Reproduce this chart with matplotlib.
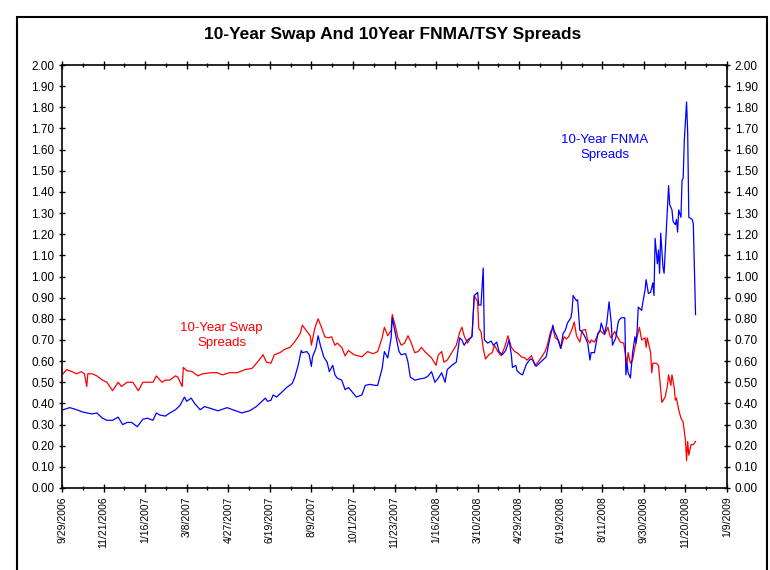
import matplotlib.pyplot as plt
import numpy as np
from matplotlib.patches import Rectangle
from matplotlib.ticker import FormatStrFormatter, MultipleLocator

plt.rcParams["font.family"] = ["Liberation Sans", "DejaVu Sans"]

# x axis labels, one every 37 business days
tick_dates = ["9/29/2006", "11/21/2006", "1/16/2007", "3/8/2007", "4/27/2007",
              "6/19/2007", "8/9/2007", "10/1/2007", "11/23/2007", "1/16/2008",
              "3/10/2008", "4/29/2008", "6/19/2008", "8/11/2008", "9/30/2008",
              "11/20/2008", "1/9/2009"]
step = 37

# 10-year swap spreads (business day index, value)
swap_day = [1, 4, 9, 13, 17, 20, 22, 23, 27, 31, 36, 40, 45, 50, 53, 58, 63, 68, 72, 76,
            81, 84, 89, 92, 96, 101, 103, 107, 108, 111, 116, 121, 125, 132, 138, 143, 149, 156, 163, 169,
            174, 179, 182, 186, 189, 194, 198, 203, 207, 212, 214, 218, 221, 222, 225, 228, 231, 234, 237, 240,
            243, 245, 249, 252, 255, 260, 267, 272, 277, 279, 281, 285, 287, 290, 293, 294, 297, 299, 302, 305,
            308, 311, 314, 317, 320, 323, 326, 329, 333, 335, 338, 340, 343, 347, 351, 354, 356, 358, 361, 365,
            367, 370, 371, 373, 375, 377, 380, 383, 385, 388, 391, 394, 397, 400, 403, 405, 409, 412, 414, 418,
            421, 423, 427, 430, 432, 435, 437, 439, 442, 444, 447, 449, 451, 454, 456, 458, 461, 463, 466, 468,
            470, 471, 474, 477, 479, 480, 483, 486, 488, 489, 492, 495, 497, 500, 502, 503, 504, 506, 508, 510,
            511, 512, 514, 516, 519, 520, 521, 524, 525, 526, 529, 531, 533, 534, 537, 539, 540, 542, 543, 545,
            546, 547, 549, 551, 553, 555, 556, 557, 558, 560, 562, 564]
swap = [0.54, 0.56, 0.55, 0.54, 0.55, 0.54, 0.48, 0.54, 0.54, 0.53, 0.51, 0.50, 0.46, 0.50, 0.48, 0.50, 0.50, 0.46, 0.50, 0.50,
        0.50, 0.53, 0.50, 0.51, 0.51, 0.53, 0.525, 0.48, 0.57, 0.555, 0.55, 0.53, 0.54, 0.545, 0.545, 0.535, 0.545, 0.545, 0.56, 0.565,
        0.595, 0.63, 0.595, 0.59, 0.63, 0.64, 0.655, 0.665, 0.69, 0.73, 0.77, 0.74, 0.72, 0.675, 0.755, 0.80, 0.76, 0.715, 0.71, 0.715,
        0.675, 0.685, 0.665, 0.625, 0.65, 0.63, 0.62, 0.645, 0.635, 0.64, 0.645, 0.71, 0.76, 0.72, 0.745, 0.82, 0.76, 0.71, 0.675, 0.685,
        0.72, 0.685, 0.64, 0.645, 0.665, 0.645, 0.63, 0.615, 0.58, 0.63, 0.645, 0.595, 0.605, 0.64, 0.675, 0.735, 0.76, 0.72, 0.685, 0.72,
        0.91, 0.88, 0.755, 0.74, 0.66, 0.61, 0.63, 0.64, 0.675, 0.645, 0.625, 0.665, 0.72, 0.665, 0.645, 0.64, 0.62, 0.615, 0.605, 0.625,
        0.58, 0.59, 0.62, 0.645, 0.675, 0.74, 0.755, 0.71, 0.70, 0.66, 0.715, 0.705, 0.715, 0.75, 0.785, 0.72, 0.69, 0.745, 0.75, 0.70,
        0.685, 0.70, 0.69, 0.725, 0.745, 0.74, 0.725, 0.76, 0.715, 0.71, 0.74, 0.71, 0.69, 0.685, 0.615, 0.59, 0.64, 0.59, 0.605, 0.665,
        0.685, 0.715, 0.76, 0.70, 0.71, 0.665, 0.71, 0.64, 0.545, 0.59, 0.59, 0.58, 0.465, 0.405, 0.43, 0.485, 0.535, 0.485, 0.535, 0.475,
        0.415, 0.425, 0.37, 0.33, 0.31, 0.225, 0.13, 0.22, 0.155, 0.205, 0.205, 0.22]

# 10-year FNMA/TSY spreads
fnma_day = [1, 7, 13, 18, 22, 27, 31, 36, 40, 45, 50, 54, 58, 62, 67, 72, 76, 81, 84, 87,
            92, 96, 101, 105, 109, 111, 115, 118, 123, 127, 133, 139, 147, 152, 160, 167, 173, 178, 181, 183,
            186, 188, 191, 196, 200, 205, 207, 210, 213, 214, 218, 220, 222, 223, 226, 228, 230, 233, 236, 238,
            241, 243, 245, 249, 252, 255, 259, 262, 267, 270, 274, 279, 281, 285, 287, 290, 293, 294, 297, 300,
            302, 306, 308, 310, 314, 318, 323, 326, 329, 332, 335, 338, 341, 343, 347, 351, 354, 356, 358, 361,
            365, 367, 370, 371, 373, 375, 376, 379, 382, 384, 387, 389, 392, 395, 398, 400, 401, 404, 405, 408,
            410, 413, 414, 417, 419, 422, 425, 428, 431, 434, 437, 438, 441, 444, 446, 448, 450, 453, 454, 455,
            458, 459, 461, 463, 466, 468, 470, 471, 474, 477, 479, 480, 483, 485, 487, 489, 490, 493, 495, 496,
            498, 501, 502, 503, 504, 506, 508, 510, 511, 512, 513, 516, 517, 519, 520, 522, 524, 526, 527, 528,
            530, 531, 532, 533, 535, 536, 538, 540, 541, 543, 544, 546, 547, 548, 549, 551, 552, 553, 554, 556,
            557, 558, 561, 562, 564]
fnma = [0.37, 0.38, 0.37, 0.36, 0.355, 0.35, 0.355, 0.33, 0.32, 0.32, 0.335, 0.30, 0.31, 0.31, 0.29, 0.325, 0.33, 0.32, 0.355, 0.345,
        0.34, 0.355, 0.37, 0.39, 0.43, 0.41, 0.425, 0.40, 0.37, 0.385, 0.375, 0.365, 0.38, 0.37, 0.355, 0.365, 0.385, 0.41, 0.425, 0.41,
        0.415, 0.44, 0.43, 0.455, 0.475, 0.495, 0.52, 0.575, 0.65, 0.64, 0.645, 0.63, 0.575, 0.62, 0.66, 0.72, 0.675, 0.62, 0.595, 0.55,
        0.58, 0.535, 0.52, 0.51, 0.465, 0.475, 0.45, 0.43, 0.44, 0.485, 0.49, 0.485, 0.485, 0.565, 0.645, 0.615, 0.71, 0.805, 0.725, 0.645,
        0.63, 0.635, 0.595, 0.525, 0.51, 0.515, 0.52, 0.53, 0.55, 0.50, 0.52, 0.545, 0.50, 0.56, 0.58, 0.595, 0.71, 0.70, 0.675, 0.70,
        0.715, 0.91, 0.925, 0.865, 0.865, 1.04, 0.70, 0.685, 0.695, 0.675, 0.69, 0.645, 0.63, 0.65, 0.70, 0.63, 0.57, 0.58, 0.555, 0.54,
        0.535, 0.58, 0.59, 0.61, 0.605, 0.575, 0.59, 0.605, 0.62, 0.70, 0.77, 0.745, 0.71, 0.66, 0.73, 0.745, 0.78, 0.805, 0.835, 0.91,
        0.885, 0.89, 0.745, 0.74, 0.71, 0.685, 0.605, 0.64, 0.64, 0.73, 0.745, 0.78, 0.73, 0.78, 0.88, 0.78, 0.675, 0.71, 0.78, 0.795,
        0.805, 0.805, 0.535, 0.59, 0.545, 0.52, 0.64, 0.715, 0.685, 0.745, 0.855, 0.84, 0.875, 0.935, 0.985, 0.92, 0.925, 0.97, 0.91, 1.18,
        1.06, 1.125, 1.015, 1.205, 1.045, 1.015, 1.22, 1.43, 1.34, 1.315, 1.26, 1.245, 1.27, 1.21, 1.315, 1.28, 1.455, 1.465, 1.645, 1.825,
        1.68, 1.28, 1.27, 1.25, 0.82]

fig = plt.figure(figsize=(7.7, 5.7), dpi=100)
ax = fig.add_axes([62 / 770, 1 - 488 / 570, 665 / 770, 423 / 570])

ax.plot(swap_day, swap, color="#ff0000", lw=0.9)
ax.plot(fnma_day, fnma, color="#0000ff", lw=0.9)

ax.set_xlim(0, step * (len(tick_dates) - 1))
ax.set_ylim(0, 2.0)
ax.set_xticks(np.arange(len(tick_dates)) * step)
ax.set_xticklabels(tick_dates, rotation=90, fontsize=7.5)
ax.xaxis.set_minor_locator(MultipleLocator(step / 2))
ax.yaxis.set_major_locator(MultipleLocator(0.1))
ax.yaxis.set_major_formatter(FormatStrFormatter("%.2f"))
ax.tick_params(axis="y", which="major", labelsize=8.5, left=True, right=True,
               labelleft=True, labelright=True, direction="inout", length=5, width=1, pad=3)
ax.tick_params(axis="x", which="major", top=True, direction="inout", length=6, width=1, pad=3)
ax.tick_params(axis="x", which="minor", top=True, direction="inout", length=3, width=1)
for s in ax.spines.values():
    s.set_linewidth(1.2)

ax.text(142, 0.72, "10-Year Swap\nSpreads", color="#ff0000", fontsize=9.5, ha="center", va="center",
        linespacing=1.35)
ax.text(483, 1.61, "10-Year FNMA\nSpreads", color="#0000ff", fontsize=9.5, ha="center", va="center",
        linespacing=1.35)

fig.text(393 / 770, 1 - 34 / 570, "10-Year Swap And 10Year FNMA/TSY Spreads", ha="center", va="center",
         fontsize=12.5, fontweight="bold")

fig.patches.append(Rectangle((17 / 770, -0.05), 750 / 770, 1.05 - 17 / 570, transform=fig.transFigure,
                             fill=False, edgecolor="black", lw=1.5))

plt.savefig("out.png", dpi=100)
